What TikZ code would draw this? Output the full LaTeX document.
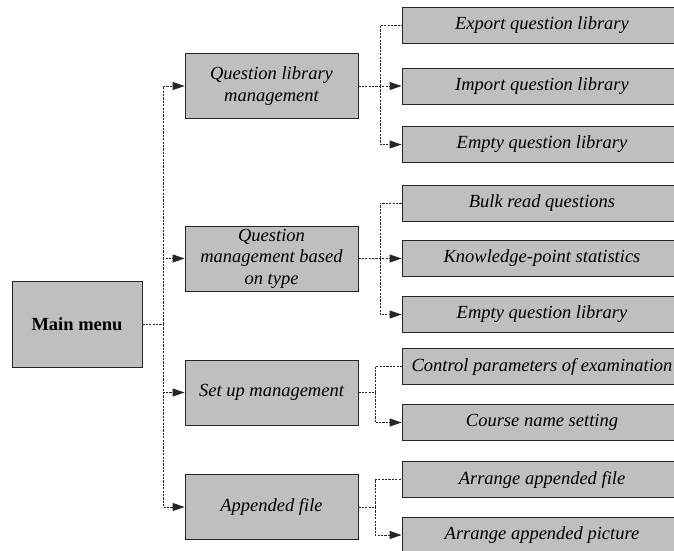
\documentclass[tikz,border=0pt]{standalone}
\usepackage{fontspec}
\setmainfont{Liberation Serif}
\usetikzlibrary{arrows.meta}
\tikzset{
  box/.style={draw=black!85, line width=0.9pt, fill=black!25, inner sep=0pt, anchor=center},
  mainbox/.style={box, minimum width=130pt, minimum height=86pt, font=\fontsize{18.5}{21.5}\selectfont\bfseries},
  midbox/.style={box, minimum width=173pt, minimum height=65pt, align=center, font=\fontsize{18.5}{21.5}\selectfont\itshape},
  leafbox/.style={box, minimum width=280pt, minimum height=36pt, font=\fontsize{18.5}{21.5}\selectfont\itshape},
  conn/.style={draw=black!85, line width=0.9pt, dash pattern=on 2.2pt off 1.2pt},
  arr/.style={conn, -{Triangle[length=12pt,width=8pt]}}
}
\begin{document}
\begin{tikzpicture}[x=1pt,y=-1pt]
\useasboundingbox (0,0) rectangle (674,550);
\clip (0,0) rectangle (674,550);
% main
\node[mainbox] (main) at (77,324) {Main menu};
% middle
\node[midbox] (m1) at (271.5,86) {Question library\\management};
\node[midbox] (m2) at (271.5,258.5) {Question\\management based\\on type};
\node[midbox] (m3) at (271.5,392.5) {Set up management};
\node[midbox] (m4) at (271.5,507) {Appended file};
% leaves
\node[leafbox] (l11) at (542,25.5) {Export question library};
\node[leafbox] (l12) at (542,86) {Import question library};
\node[leafbox] (l13) at (542,144.5) {Empty question library};
\node[leafbox] (l21) at (542,203) {Bulk read questions};
\node[leafbox] (l22) at (542,258.5) {Knowledge-point statistics};
\node[leafbox] (l23) at (542,314.5) {Empty question library};
\node[leafbox] (l31) at (542,366.5) {Control parameters of examination};
\node[leafbox] (l32) at (542,422.5) {Course name setting};
\node[leafbox] (l41) at (542,479.5) {Arrange appended file};
\node[leafbox] (l42) at (542,535) {Arrange appended picture};
% main bus
\coordinate (mb) at (163,324);
\draw[conn] (main.east) -- (mb);
\draw[arr] (mb) |- (m1.west);
\draw[arr] (mb) |- (m2.west);
\draw[arr] (mb) |- (m3.west);
\draw[arr] (mb) |- (m4.west);
% group 1
\coordinate (b1) at (380,86);
\draw[arr] (m1.east) -- (l12.west);
\draw[conn] (b1) |- (l11.west);
\draw[arr] (b1) |- (l13.west);
% group 2
\coordinate (b2) at (380,258.5);
\draw[arr] (m2.east) -- (l22.west);
\draw[conn] (b2) |- (l21.west);
\draw[arr] (b2) |- (l23.west);
% group 3
\coordinate (b3) at (375,392.5);
\draw[conn] (m3.east) -- (b3);
\draw[conn] (b3) |- (l31.west);
\draw[arr] (b3) |- (l32.west);
% group 4
\coordinate (b4) at (375,507);
\draw[conn] (m4.east) -- (b4);
\draw[conn] (b4) |- (l41.west);
\draw[arr] (b4) |- (l42.west);
\end{tikzpicture}
\end{document}
